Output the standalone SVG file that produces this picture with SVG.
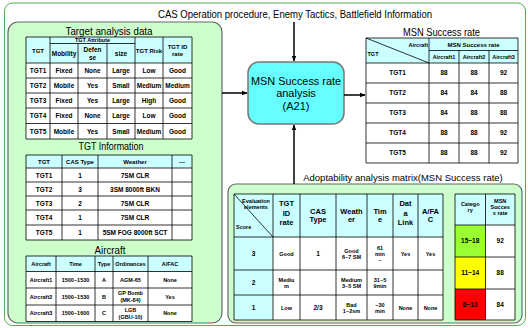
<svg xmlns="http://www.w3.org/2000/svg" width="528" height="328" viewBox="0 0 528 328">
<defs>
<marker id="arr" viewBox="0 0 10 10" refX="9" refY="5" markerWidth="6" markerHeight="6" orient="auto" markerUnits="userSpaceOnUse"><path d="M0,1 L10,5 L0,9 Z" fill="#000"/></marker>
</defs>
<style>
text{font-family:"Liberation Sans",Arial,sans-serif;fill:#000}
.c{text-anchor:middle;font-weight:bold}
.ti{font-size:11px;text-anchor:middle}
.b{font-size:6.5px}
.h{font-size:6px}
.sm{font-size:5.5px}
.m{font-size:7.5px}
.g{stroke:#000;stroke-width:0.8;fill:none}
.hd{fill:#CCFFFF}
.wh{fill:#FFFFFF}
.panel{fill:#CCFFCC;stroke:#666;stroke-width:1.2}
</style>
<rect x="4.5" y="3" width="521" height="322.5" rx="8" fill="#fff" stroke="#4CAF50" stroke-width="1"/>
<text x="295" y="18" class="ti" textLength="274" lengthAdjust="spacingAndGlyphs">CAS Operation procedure, Enemy Tactics, Battlefield Information</text>
<text x="403" y="181" class="ti" style="font-size:9.5px">Adoptability analysis matrix(MSN Success rate)</text>

<g id="left-panel">
<rect x="8" y="22" width="214" height="301" rx="10" class="panel"/>
</g>

<g id="target-analysis">
<text x="109" y="35" class="ti" textLength="87" lengthAdjust="spacingAndGlyphs">Target analysis data</text>
<rect x="26" y="37" width="166" height="26" class="hd"/>
<rect x="26" y="63" width="166" height="76" class="wh"/>
<path class="g" d="M26,37H192V139H26Z M26,63H192 M26,78H192 M26,93H192 M26,108H192 M26,123.5H192 M50,43.5H135 M50,37V139 M78,43.5V139 M107,43.5V139 M135,37V139 M163,37V139"/>
<text x="92.5" y="42" class="c sm">TGT Attribute</text>
<text x="38" y="52.5" class="c h">TGT</text>
<text x="64" y="56" class="c b">Mobility</text>
<text x="92.5" y="52" class="c b">Defen<tspan x="92.5" y="59.5">se</tspan></text>
<text x="121" y="56" class="c b">size</text>
<text x="149" y="52.5" class="c h">TGT Risk</text>
<text x="177.5" y="48.5" class="c h">TGT ID<tspan x="177.5" y="56">rate</tspan></text>
<g class="c b">
<text x="38" y="73">TGT1</text><text x="64" y="73">Fixed</text><text x="92.5" y="73">None</text><text x="121" y="73">Large</text><text x="149" y="73">Low</text><text x="177.5" y="73">Good</text>
<text x="38" y="88">TGT2</text><text x="64" y="88">Mobile</text><text x="92.5" y="88">Yes</text><text x="121" y="88">Small</text><text x="149" y="88">Medium</text><text x="177.5" y="88">Medium</text>
<text x="38" y="103">TGT3</text><text x="64" y="103">Fixed</text><text x="92.5" y="103">Yes</text><text x="121" y="103">Large</text><text x="149" y="103">High</text><text x="177.5" y="103">Good</text>
<text x="38" y="118">TGT4</text><text x="64" y="118">Fixed</text><text x="92.5" y="118">None</text><text x="121" y="118">Large</text><text x="149" y="118">Low</text><text x="177.5" y="118">Good</text>
<text x="38" y="133.5">TGT5</text><text x="64" y="133.5">Mobile</text><text x="92.5" y="133.5">Yes</text><text x="121" y="133.5">Small</text><text x="149" y="133.5">Medium</text><text x="177.5" y="133.5">Good</text>
</g>
</g>

<g id="tgt-information">
<text x="111" y="150" class="ti" textLength="65" lengthAdjust="spacingAndGlyphs">TGT Information</text>
<rect x="26" y="155" width="166" height="13" class="hd"/>
<rect x="26" y="168" width="166" height="72" class="wh"/>
<path class="g" d="M26,155H192V240H26Z M26,168H192 M26,182H192 M26,196H192 M26,210H192 M26,225H192 M62,155V240 M98,155V240 M172,155V240"/>
<g class="c h">
<text x="44" y="163.5">TGT</text><text x="80" y="163.5">CAS Type</text><text x="135" y="163.5">Weather</text><text x="182" y="163.5">---</text>
</g>
<g class="c b">
<text x="44" y="177.5">TGT1</text><text x="80" y="177.5">1</text><text x="135" y="177.5">7SM CLR</text>
<text x="44" y="191.5">TGT2</text><text x="80" y="191.5">3</text><text x="135" y="191.5">3SM 8000ft BKN</text>
<text x="44" y="205.5">TGT3</text><text x="80" y="205.5">2</text><text x="135" y="205.5">7SM CLR</text>
<text x="44" y="220">TGT4</text><text x="80" y="220">1</text><text x="135" y="220">7SM CLR</text>
<text x="44" y="235">TGT5</text><text x="80" y="235">1</text><text x="135" y="235">5SM FOG 8000ft SCT</text>
</g>
</g>

<g id="aircraft">
<text x="110" y="254" class="ti" textLength="31" lengthAdjust="spacingAndGlyphs">Aircraft</text>
<rect x="26" y="256" width="166" height="15.5" class="hd"/>
<rect x="26" y="271.5" width="166" height="50" class="wh"/>
<path class="g" d="M26,256H192V321.5H26Z M26,271.5H192 M26,288H192 M26,305H192 M56,256V321.5 M95,256V321.5 M113,256V321.5 M148,256V321.5"/>
<g class="c sm">
<text x="41" y="265.7">Aircraft</text><text x="75.5" y="265.7">Time</text><text x="104" y="265.7">Type</text><text x="130.5" y="265.7">Ordinances</text><text x="170" y="265.7">A/FAC</text>
<text x="41" y="281.7">Aircraft1</text><text x="75.5" y="281.7">1500~1530</text><text x="104" y="281.7">A</text><text x="130.5" y="281.7">AGM-65</text><text x="170" y="281.7">None</text>
<text x="41" y="298.5">Aircraft2</text><text x="75.5" y="298.5">1500~1530</text><text x="104" y="298.5">B</text><text x="130.5" y="295">GP Bomb<tspan x="130.5" y="302">(MK-84)</tspan></text><text x="170" y="298.5">Yes</text>
<text x="41" y="315.3">Aircraft3</text><text x="75.5" y="315.3">1500~1600</text><text x="104" y="315.3">C</text><text x="130.5" y="311.8">LGB<tspan x="130.5" y="318.8">(GBU-10)</tspan></text><text x="170" y="315.3">None</text>
</g>
</g>

<g id="analysis-box">
<rect x="248" y="62" width="96" height="62" rx="11" fill="#66FFFF" stroke="#777" stroke-width="1.5"/>
<text x="296" y="85" class="ti" textLength="90" lengthAdjust="spacingAndGlyphs">MSN Success rate</text>
<text x="296" y="97" class="ti">analysis</text>
<text x="296" y="109.5" class="ti">(A21)</text>
</g>

<g id="msn-success-rate">
<text x="441.5" y="36" class="ti" textLength="77" lengthAdjust="spacingAndGlyphs">MSN Success rate</text>
<rect x="366" y="38" width="152" height="25" class="hd"/>
<rect x="366" y="63" width="152" height="100" class="wh"/>
<path class="g" d="M366,38H518V163H366Z M429,50.5H518 M366,63H518 M366,83H518 M366,103H518 M366,123H518 M366,143H518 M429,38V163 M459,50.5V163 M489,50.5V163 M366,38L429,63"/>
<text x="428" y="47" class="sm" font-weight="bold" text-anchor="end">Aircraft</text>
<text x="367.5" y="56" class="sm" font-weight="bold">TGT</text>
<text x="473.5" y="46.5" class="c h">MSN Success rate</text>
<g class="c sm">
<text x="444" y="58.8">Aircraft1</text><text x="474" y="58.8">Aircraft2</text><text x="503.5" y="58.8">Aircraft3</text>
</g>
<g class="c b">
<text x="397.5" y="75.3">TGT1</text><text x="444" y="75.3">88</text><text x="474" y="75.3">88</text><text x="503.5" y="75.3">92</text>
<text x="397.5" y="95.3">TGT2</text><text x="444" y="95.3">84</text><text x="474" y="95.3">84</text><text x="503.5" y="95.3">88</text>
<text x="397.5" y="115.3">TGT3</text><text x="444" y="115.3">84</text><text x="474" y="115.3">88</text><text x="503.5" y="115.3">88</text>
<text x="397.5" y="135.3">TGT4</text><text x="444" y="135.3">88</text><text x="474" y="135.3">88</text><text x="503.5" y="135.3">92</text>
<text x="397.5" y="155.3">TGT5</text><text x="444" y="155.3">88</text><text x="474" y="155.3">88</text><text x="503.5" y="155.3">92</text>
</g>
</g>

<g id="adoptability-matrix">
<rect x="228" y="184" width="294" height="139" rx="8" class="panel"/>
<rect x="234" y="194" width="209" height="43" class="hd"/>
<rect x="234" y="237" width="39" height="83" class="hd"/>
<rect x="273" y="237" width="170" height="83" class="wh"/>
<path class="g" d="M234,194H443V320H234Z M234,237H443 M234,270H443 M234,295H443 M273,194V320 M300,194V320 M336,194V320 M367,194V320 M393,194V320 M418,194V320 M234,194L273,237"/>
<text x="256" y="203" class="c sm">Evaluation<tspan x="256" y="208.5">elements</tspan></text>
<text x="236" y="229" class="sm" font-weight="bold">Score</text>
<g class="c m">
<text x="286.5" y="206">TGT<tspan x="286.5" y="215.5">ID</tspan><tspan x="286.5" y="225">rate</tspan></text>
<text x="318" y="213.5">CAS<tspan x="318" y="222">Type</tspan></text>
<text x="351.5" y="213.5">Weath<tspan x="351.5" y="222">er</tspan></text>
<text x="380" y="213.5">Tim<tspan x="380" y="222">e</tspan></text>
<text x="405.5" y="206">Dat<tspan x="405.5" y="215.5">a</tspan><tspan x="405.5" y="225">Link</tspan></text>
<text x="430.5" y="213.5">A/FA<tspan x="430.5" y="222">C</tspan></text>
</g>
<g class="c b">
<text x="253.5" y="256">3</text><text x="253.5" y="285">2</text><text x="253.5" y="310">1</text>
<text x="318" y="256">1</text><text x="318" y="310">2/3</text>
</g>
<g class="c sm">
<text x="286.5" y="255.5">Good</text>
<text x="351.5" y="252.5">Good<tspan x="351.5" y="258.5">6~7 SM</tspan></text>
<text x="380" y="249.5">61<tspan x="380" y="255.5">min</tspan><tspan x="380" y="261.5">~</tspan></text>
<text x="405.5" y="255.5">Yes</text><text x="430.5" y="255.5">Yes</text>
<text x="286.5" y="281.5">Mediu<tspan x="286.5" y="287.5">m</tspan></text>
<text x="351.5" y="281.5">Medium<tspan x="351.5" y="287.5">3~5 SM</tspan></text>
<text x="380" y="281.5">31~5<tspan x="380" y="287.5">9min</tspan></text>
<text x="286.5" y="309.5">Low</text>
<text x="351.5" y="306.5">Bad<tspan x="351.5" y="312.5">1~2sm</tspan></text>
<text x="380" y="306.5">~30<tspan x="380" y="312.5">min</tspan></text>
<text x="405.5" y="309.5">None</text><text x="430.5" y="309.5">None</text>
</g>
<rect x="455" y="194" width="60" height="31" class="hd"/>
<rect x="455" y="225" width="30.5" height="32" fill="#99FF33"/>
<rect x="455" y="257" width="30.5" height="32" fill="#FFFF00"/>
<rect x="455" y="289" width="30.5" height="31" fill="#FF0000"/>
<rect x="485.5" y="225" width="29.5" height="95" class="wh"/>
<path class="g" d="M455,194H515V320H455Z M455,225H515 M455,257H515 M455,289H515 M485.5,194V320"/>
<text x="470.2" y="205.5" class="c sm">Catego<tspan x="470.2" y="211.5">ry</tspan></text>
<text x="500.2" y="202.5" class="c sm">MSN<tspan x="500.2" y="208.5">Succes</tspan><tspan x="500.2" y="214.5">s rate</tspan></text>
<g class="c b">
<text x="470.2" y="243.3">15~18</text><text x="500.2" y="243.3">92</text>
<text x="470.2" y="275.3">11~14</text><text x="500.2" y="275.3">88</text>
<text x="470.2" y="306.8">6~10</text><text x="500.2" y="306.8">84</text>
</g>
</g>

<g id="connectors" stroke="#000" stroke-width="1.5" fill="none">
<line x1="294" y1="22" x2="294" y2="61" marker-end="url(#arr)"/>
<line x1="222" y1="93" x2="247" y2="93" marker-end="url(#arr)"/>
<line x1="344" y1="95" x2="365" y2="95" marker-end="url(#arr)"/>
<line x1="294" y1="184" x2="294" y2="125" marker-end="url(#arr)"/>
</g>
</svg>
